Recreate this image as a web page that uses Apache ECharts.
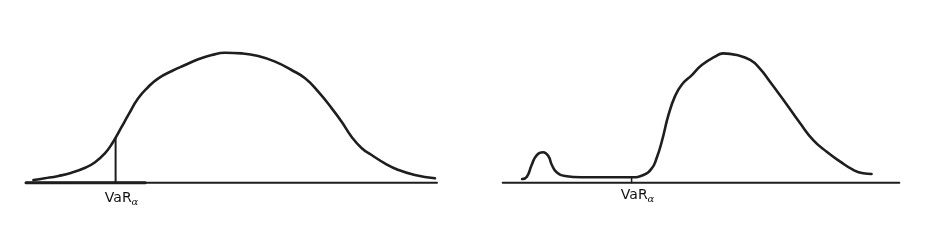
<!DOCTYPE html>
<html>
<head>
<meta charset="utf-8">
<script src="https://cdn.jsdelivr.net/npm/echarts@6/dist/echarts.min.js"></script>
<style>html,body{margin:0;padding:0;background:#fff}#c{width:925px;height:250px}</style>
</head>
<body>
<div id="c"></div>
<script>
// Left panel: smooth bell-shaped distribution
var leftX = [1.8, 4.6, 7.9, 11.1, 14.4, 16.8, 19.2, 21.0, 23.3, 24.9, 27.3, 29.8, 32.2, 35.5, 38.7, 41.9, 45.2, 48.4, 52.5, 56.5, 60.6, 64.6, 67.9, 71.1, 74.4, 76.8, 79.2, 81.7, 84.1, 87.3, 90.6, 94.6, 99.5];
var leftY = [2.1, 3.4, 5.2, 7.7, 11.5, 15.7, 22.6, 30.3, 43.1, 52.1, 64.9, 73.8, 80.3, 85.9, 90.5, 94.9, 98.2, 100, 99.5, 97.5, 93.1, 86.7, 80.3, 70.0, 57.2, 46.9, 35.4, 26.5, 21.3, 14.9, 9.8, 5.9, 3.4];
// Right panel: distribution with small left bump
var rightX = [4.9, 6.1, 7.3, 8.6, 10.2, 11.5, 12.4, 13.6, 15.7, 19.9, 24.0, 28.3, 32.5, 35.5, 37.6, 38.8, 40.1, 41.8, 43.4, 45.1, 47.7, 50.2, 53.5, 55.6, 59.0, 62.4, 64.8, 67.4, 70.8, 75.0, 78.3, 81.7, 85.1, 88.4, 90.9, 93.0];
var rightY = [2.8, 4.6, 13.6, 21.3, 23.4, 20.5, 13.6, 8.0, 5.2, 4.2, 4.2, 4.2, 4.2, 5.9, 11.1, 18.8, 31.5, 52.1, 66.2, 75.2, 82.8, 90.5, 96.9, 99.5, 98.2, 94.4, 88.0, 77.7, 63.6, 45.7, 32.8, 23.8, 16.2, 9.8, 7.2, 6.7];
// VaR positions [x, curve height]
var varLeft = [21.8, 34.2];
var varRight = [32.5, 4.2];
// Baseline extents
var leftBase = [0, 100];
var leftBaseThick = [0, 29];
var rightBase = [0, 100];
var labelMain = 'VaR';
var labelSub = 'α';

function pairs(xs, ys) { return xs.map(function (x, i) { return [x, ys[i]]; }); }

var chart = echarts.init(document.getElementById('c'), null, {renderer: 'canvas'});
var ink = '#1e1e1e';
var rich = {
  a: {fontFamily: 'DejaVu Sans', fontSize: 14, color: '#111', lineHeight: 16, verticalAlign: 'bottom'},
  b: {fontFamily: 'DejaVu Serif', fontStyle: 'italic', fontSize: 10, color: '#111', lineHeight: 12, verticalAlign: 'bottom', padding: [0, 0, -2, 0]}
};
function axes(i) {
  return {
    x: {type: 'value', gridIndex: i, min: 0, max: 100, show: false},
    y: {type: 'value', gridIndex: i, min: 0, max: 100, show: false}
  };
}
var a0 = axes(0), a1 = axes(1);
function lineSeries(idx, data, width, smooth) {
  return {type: 'line', xAxisIndex: idx, yAxisIndex: idx, data: data, showSymbol: false, symbol: 'none',
    smooth: smooth || false, clip: false, silent: true, animation: false,
    lineStyle: {color: ink, width: width, join: 'round', cap: 'round'}};
}
function labelSeries(idx, v, dist) {
  return {type: 'scatter', xAxisIndex: idx, yAxisIndex: idx, data: [[v[0], 0]], symbolSize: 0, silent: true,
    itemStyle: {opacity: 1},
    label: {show: true, position: 'bottom', distance: dist, offset: [6, 0], color: '#111',
      formatter: '{a|' + labelMain + '}{b|' + labelSub + '}', rich: rich}};
}
var option = {
  animation: false,
  grid: [
    {left: 26, top: 52.7, width: 411, height: 130},
    {left: 502.7, top: 52.7, width: 396.6, height: 130}
  ],
  xAxis: [a0.x, a1.x],
  yAxis: [a0.y, a1.y],
  series: [
    lineSeries(0, [[leftBase[0], 0], [leftBase[1], 0]], 2),
    lineSeries(0, [[leftBaseThick[0], 0], [leftBaseThick[1], 0]], 3),
    lineSeries(0, pairs(leftX, leftY), 2.6, 0.5),
    lineSeries(0, [[varLeft[0], 0], [varLeft[0], varLeft[1]]], 2),
    lineSeries(1, [[rightBase[0], 0], [rightBase[1], 0]], 2),
    lineSeries(1, pairs(rightX, rightY), 2.6, 0.5),
    lineSeries(1, [[varRight[0], 0], [varRight[0], varRight[1]]], 1.5),
    labelSeries(0, varLeft, 7),
    labelSeries(1, varRight, 4)
  ]
};
chart.setOption(option);
</script>
</body>
</html>
